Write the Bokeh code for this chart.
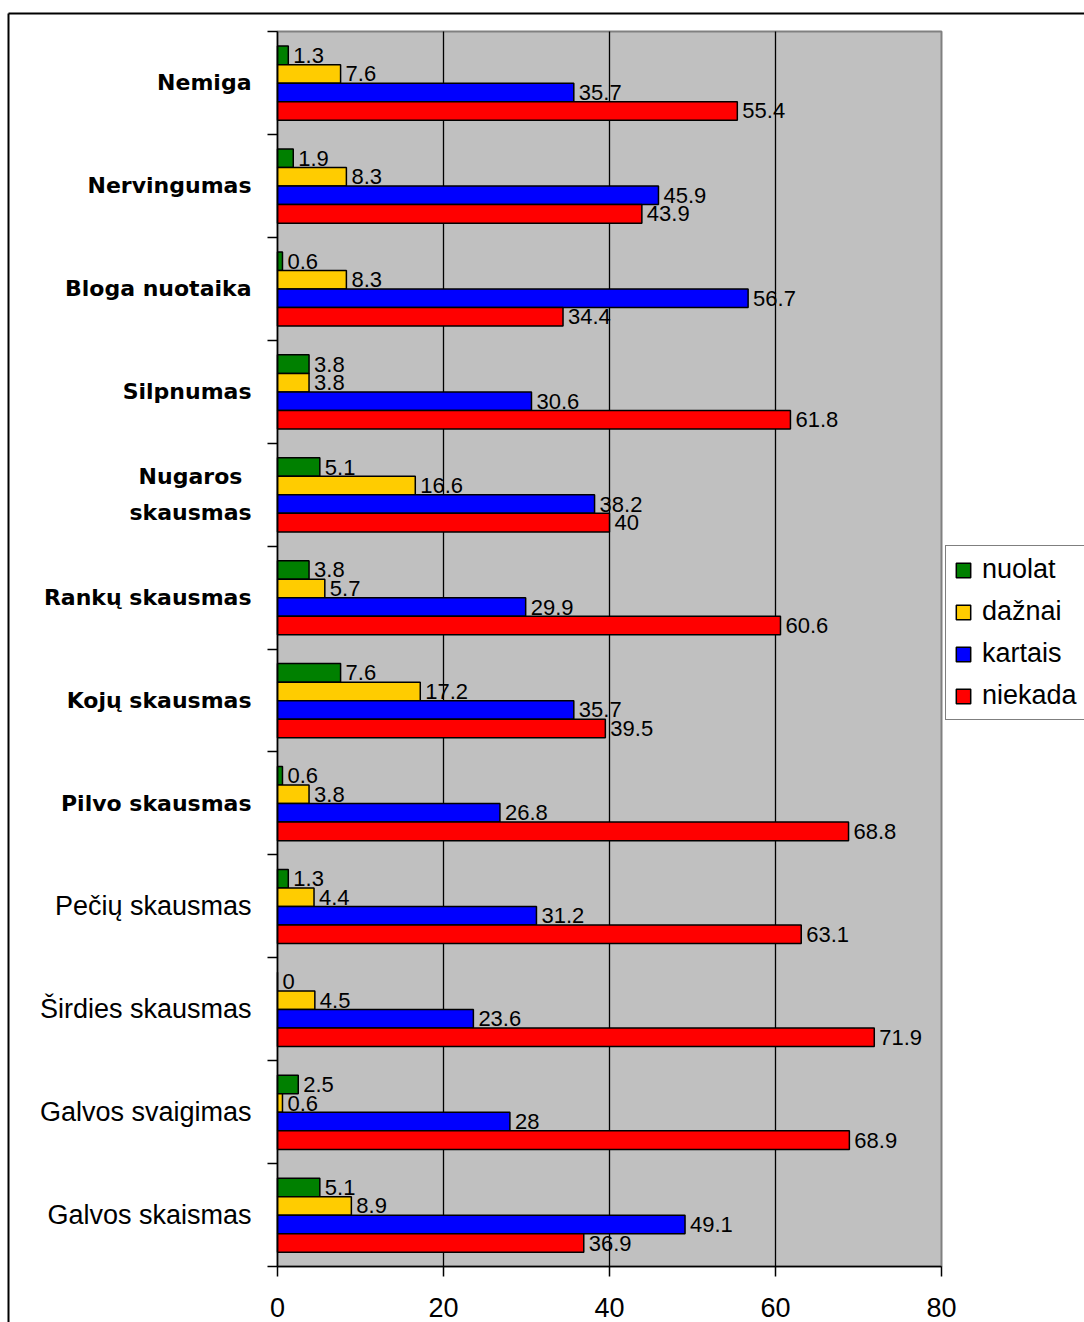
from bokeh.plotting import figure
from bokeh.models import (Range1d, FixedTicker, Legend, LegendItem,
                          ColumnDataSource)
from bokeh.core.properties import value
from bokeh.embed import file_html
from bokeh.resources import INLINE

# Symptom categories, listed top to bottom
categories = [
    "Nemiga", "Nervingumas", "Bloga nuotaika", "Silpnumas",
    "Nugaros\nskausmas", "Rankų skausmas", "Kojų skausmas", "Pilvo skausmas",
    "Pečių skausmas", "Širdies skausmas", "Galvos svaigimas", "Galvos skaismas",
]
bold_count = 8  # the first rows use the bold caption style

series_names = ["nuolat", "dažnai", "kartais", "niekada"]
nuolat = [1.3, 1.9, 0.6, 3.8, 5.1, 3.8, 7.6, 0.6, 1.3, 0, 2.5, 5.1]
daznai = [7.6, 8.3, 8.3, 3.8, 16.6, 5.7, 17.2, 3.8, 4.4, 4.5, 0.6, 8.9]
kartais = [35.7, 45.9, 56.7, 30.6, 38.2, 29.9, 35.7, 26.8, 31.2, 23.6, 28, 49.1]
niekada = [55.4, 43.9, 34.4, 61.8, 40, 60.6, 39.5, 68.8, 63.1, 71.9, 68.9, 36.9]
x_ticks = [0, 20, 40, 60, 80]
x_max = 80

series = [nuolat, daznai, kartais, niekada]
colors = ["#008000", "#FFCC00", "#0000FF", "#FF0000"]

n = len(categories)
W, H = 1084, 1322
# pixel box of the grey plotting area inside the canvas
area_l, area_t, area_r, area_b = 277, 31, 941, 1266
px_x = (area_r - area_l) / x_max
px_y = (area_b - area_t) / n


def dx(px):
    """canvas pixel column -> data x"""
    return (px - area_l) / px_x


def dy(py):
    """canvas pixel row -> data y"""
    return (area_b - py) / px_y


# the frame spans the whole canvas so captions and legend stay visible
p = figure(width=W, height=H,
           x_range=Range1d(dx(0), dx(W)), y_range=Range1d(dy(H), dy(0)),
           output_backend="svg", toolbar_location=None,
           min_border_left=0, min_border_right=0,
           min_border_top=0, min_border_bottom=0)
p.background_fill_color = "white"
p.border_fill_color = "white"
p.outline_line_color = None
p.xgrid.visible = False
p.ygrid.visible = False

# grey plotting area with its top/right edge
p.quad(left=0, right=x_max, bottom=0, top=n, fill_color="#C0C0C0",
       line_color="#808080", line_width=2)

# vertical grid lines at the inner ticks
inner = x_ticks[1:-1]
p.segment(x0=inner, x1=inner, y0=[0] * len(inner), y1=[n] * len(inner),
          line_color="black", line_width=1.3)

# x axis drawn along the bottom of the plotting area
p.xaxis.fixed_location = 0
p.xaxis.bounds = (0, x_max)
p.xaxis.ticker = FixedTicker(ticks=x_ticks)
p.xaxis.axis_line_color = "black"
p.xaxis.axis_line_width = 1.5
p.xaxis.major_tick_line_color = "black"
p.xaxis.major_tick_line_width = 1.5
p.xaxis.major_tick_in = 0
p.xaxis.major_tick_out = 10
p.xaxis.minor_tick_line_color = None
p.xaxis.major_label_standoff = 21
p.xaxis.major_label_text_font = "Liberation Sans"
p.xaxis.major_label_text_font_size = "27px"
p.xaxis.major_label_text_color = "black"

# y axis along the left edge: tick marks only, at category boundaries
p.yaxis.fixed_location = 0
p.yaxis.bounds = (0, n)
p.yaxis.ticker = FixedTicker(ticks=[], minor_ticks=list(range(n + 1)))
p.yaxis.axis_line_color = "black"
p.yaxis.axis_line_width = 1.5
p.yaxis.minor_tick_line_color = "black"
p.yaxis.minor_tick_line_width = 1.5
p.yaxis.minor_tick_in = 0
p.yaxis.minor_tick_out = 10
p.yaxis.major_tick_line_color = None

# bars and their value labels
group_top = 0.142
bar_h = 0.18
renderers = []
for k, (vals, col) in enumerate(zip(series, colors)):
    ys = [n - i - group_top - bar_h * (k + 0.5) for i in range(n)]
    src = ColumnDataSource(dict(y=ys, v=vals, t=[f"{v:g}" for v in vals]))
    r = p.hbar(y="y", left=0, right="v", height=bar_h, source=src,
               fill_color=col, line_color="black", line_width=1.5)
    renderers.append(r)
    p.text(x="v", y="y", text="t", source=src, x_offset=5,
           text_font=value("Liberation Sans"), text_font_size="22px",
           text_color="black", text_baseline="middle", text_align="left")

# category captions to the left of the axis; wrapped captions are centred
cap_right = area_l - 26
wrap_half = 61
wrapped = ["\n" in c for c in categories]
cap = ColumnDataSource(dict(
    x=[dx(cap_right - wrap_half) if w else dx(cap_right) for w in wrapped],
    y=[n - i - 0.5 for i in range(n)],
    t=categories,
    align=["center" if w else "right" for w in wrapped],
    font=["DejaVu Sans" if i < bold_count else "Liberation Sans" for i in range(n)],
    style=["bold" if i < bold_count else "normal" for i in range(n)],
    size=["22px" if i < bold_count else "27px" for i in range(n)],
))
p.text(x="x", y="y", text="t", source=cap, text_font="font",
       text_font_style="style", text_font_size="size", text_color="black",
       text_align="align", text_baseline="middle", text_line_height=1.44)

# legend
legend = Legend(items=[LegendItem(label=nm, renderers=[r])
                       for nm, r in zip(series_names, renderers)],
                location=(945, H - 720),
                orientation="vertical", margin=0, padding=8, spacing=11,
                glyph_width=18, glyph_height=18, label_height=31,
                label_standoff=10, label_text_font="Liberation Sans",
                label_text_font_size="27px", label_text_color="black",
                border_line_color="black", border_line_width=1.5,
                background_fill_color="white", background_fill_alpha=1)
p.add_layout(legend)

# outer chart border (top and left edges; the rest runs past the canvas)
p.multi_line(xs=[[dx(8), dx(W + 20)], [dx(8), dx(8)]],
             ys=[[dy(13), dy(13)], [dy(13), dy(H + 20)]],
             line_color="black", line_width=2)

open("out.html", "w").write(file_html(p, INLINE))
